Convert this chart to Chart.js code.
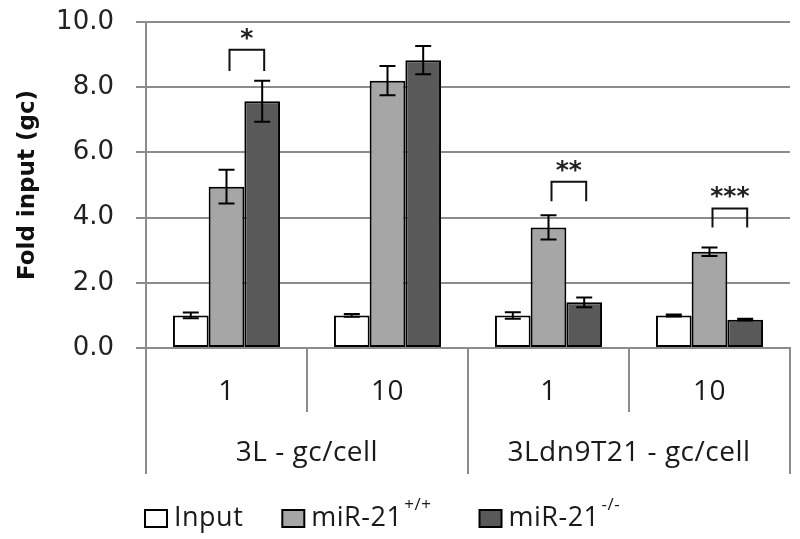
<!DOCTYPE html>
<html>
<head>
<meta charset="utf-8">
<script src="https://cdn.jsdelivr.net/npm/chart.js@4.4.1/dist/chart.umd.min.js"></script>
<style>
  html, body { margin: 0; padding: 0; background: #fff; }
</style>
</head>
<body>
<canvas id="chart" width="800" height="539"></canvas>
<script>
// data
const categories = ["1", "10", "1", "10"];
const groups = ["3L - gc/cell", "3Ldn9T21 - gc/cell"];
const groupSpan = [2, 2];
const seriesNames = ["Input", "miR-21", "miR-21"];
const seriesSup = ["", "+/+", "-/-"];
const inputVals = [1.0, 1.0, 1.0, 1.0];
const wtVals = [4.95, 8.2, 3.7, 2.95];
const koVals = [7.57, 8.83, 1.4, 0.87];
const inputErr = [0.09, 0.04, 0.1, 0.03];
const wtErr = [0.52, 0.45, 0.37, 0.13];
const koErr = [0.63, 0.43, 0.15, 0.03];
const yTicks = [0, 2, 4, 6, 8, 10];
const sigGroups = [0, 2, 3];
const sigTop = [9.15, 5.1, 4.28];
const sigLeg = [8.5, 4.5, 3.7];
const sigStars = ["*", "**", "***"];

const colors = ["#ffffff", "#a6a6a6", "#595959"];
const errors = [inputErr, wtErr, koErr];
const gridGray = "#8c8c8c";
const textFont = "'Open Sans', sans-serif";

// error bars on top of every bar
const errorBarPlugin = {
  id: "errorBars",
  afterDatasetsDraw(chart) {
    const ctx = chart.ctx;
    const y = chart.scales.y;
    ctx.save();
    ctx.strokeStyle = "#000";
    ctx.lineWidth = 2;
    chart.data.datasets.forEach((ds, di) => {
      const meta = chart.getDatasetMeta(di);
      meta.data.forEach((bar, i) => {
        const v = ds.data[i];
        const e = errors[di][i];
        const yHi = y.getPixelForValue(v + e);
        const yLo = y.getPixelForValue(v - e);
        const cap = 8;
        ctx.beginPath();
        ctx.moveTo(bar.x, yHi); ctx.lineTo(bar.x, yLo);
        ctx.moveTo(bar.x - cap, yHi); ctx.lineTo(bar.x + cap, yHi);
        ctx.moveTo(bar.x - cap, yLo); ctx.lineTo(bar.x + cap, yLo);
        ctx.stroke();
      });
    });
    ctx.restore();
  }
};

// significance brackets between miR-21 +/+ and -/-
const bracketPlugin = {
  id: "brackets",
  afterDatasetsDraw(chart) {
    const ctx = chart.ctx;
    const y = chart.scales.y;
    const a = chart.getDatasetMeta(1).data;
    const b = chart.getDatasetMeta(2).data;
    ctx.save();
    ctx.strokeStyle = "#111";
    ctx.lineWidth = 2;
    sigGroups.forEach((g, k) => {
      const x1 = a[g].x + 3, x2 = b[g].x + 2;
      const top = y.getPixelForValue(sigTop[k]);
      const leg = y.getPixelForValue(sigLeg[k]);
      ctx.beginPath();
      ctx.moveTo(x1, leg); ctx.lineTo(x1, top); ctx.lineTo(x2, top); ctx.lineTo(x2, leg);
      ctx.stroke();
      ctx.fillStyle = "#222";
      ctx.font = "bold 25px 'DejaVu Sans'";
      ctx.textAlign = "center";
      ctx.textBaseline = "alphabetic";
      ctx.fillText(sigStars[k], (x1 + x2) / 2, top - 4);
    });
    ctx.restore();
  }
};

// two-level category axis and legend
const axisPlugin = {
  id: "twoLevelAxis",
  afterDraw(chart) {
    const ctx = chart.ctx;
    const x = chart.scales.x;
    const area = chart.chartArea;
    const n = categories.length;
    const step = (area.right - area.left) / n;
    ctx.save();
    ctx.strokeStyle = gridGray;
    ctx.lineWidth = 2;
    // boundaries
    const groupEdges = [0];
    groupSpan.reduce((acc, s) => { groupEdges.push(acc + s); return acc + s; }, 0);
    for (let i = 0; i <= n; i++) {
      const bx = Math.round(x.getPixelForValue(i) - step / 2);
      const len = groupEdges.includes(i) ? 126 : 64;
      ctx.beginPath();
      ctx.moveTo(bx, area.bottom);
      ctx.lineTo(bx, area.bottom + len);
      ctx.stroke();
    }
    ctx.fillStyle = "#1a1a1a";
    ctx.textAlign = "center";
    ctx.textBaseline = "middle";
    ctx.letterSpacing = "0.5px";
    ctx.font = "28px " + textFont;
    categories.forEach((c, i) => {
      ctx.fillText(c, x.getPixelForValue(i), area.bottom + 44);
    });
    let start = 0;
    groups.forEach((g, gi) => {
      const mid = (x.getPixelForValue(start) + x.getPixelForValue(start + groupSpan[gi] - 1)) / 2;
      ctx.fillText(g, mid, area.bottom + 105);
      start += groupSpan[gi];
    });

    // legend
    let lx = 145;
    const ly = 518;
    ctx.textAlign = "left";
    ctx.textBaseline = "middle";
    seriesNames.forEach((name, i) => {
      ctx.fillStyle = colors[i];
      ctx.fillRect(lx, ly - 8, 22, 17);
      ctx.strokeStyle = "#000";
      ctx.lineWidth = 2;
      ctx.strokeRect(lx, ly - 8, 22, 17);
      lx += 29;
      ctx.fillStyle = "#1a1a1a";
      ctx.font = "27px " + textFont;
      ctx.fillText(name, lx, ly);
      lx += ctx.measureText(name).width + 2;
      if (seriesSup[i]) {
        ctx.font = "17px " + textFont;
        ctx.fillText(seriesSup[i], lx, ly - 13);
        lx += ctx.measureText(seriesSup[i]).width;
      }
      lx += seriesSup[i] ? 48 : 37;
    });
    ctx.restore();
  }
};

const datasets = [inputVals, wtVals, koVals].map((vals, i) => ({
  label: seriesNames[i] + seriesSup[i],
  data: vals,
  backgroundColor: colors[i],
  borderColor: "#000",
  borderWidth: 2,
  borderSkipped: false,
  barPercentage: 1.0,
  categoryPercentage: 0.665
}));

new Chart(document.getElementById("chart"), {
  type: "bar",
  data: { labels: categories, datasets: datasets },
  options: {
    responsive: false,
    animation: false,
    layout: { padding: { left: 8, right: 10, top: 22, bottom: 183 } },
    plugins: {
      legend: { display: false },
      tooltip: { enabled: false }
    },
    scales: {
      x: {
        grid: { display: false },
        ticks: { display: false },
        border: { color: gridGray, width: 2 }
      },
      y: {
        min: 0,
        max: 10,
        afterBuildTicks(scale) { scale.ticks = yTicks.map(v => ({ value: v })); },
        afterFit(scale) {
          scale.width = 138;
          scale.paddingTop = 0;
          scale.paddingBottom = 0;
        },
        ticks: {
          font: { family: "'DejaVu Sans'", size: 26 },
          color: "#222",
          padding: 22,
          callback: v => Number(v).toFixed(1)
        },
        grid: { color: gridGray, lineWidth: 2, tickLength: 10 },
        border: { color: gridGray, width: 2 },
        title: {
          display: true,
          text: "Fold input (gc)",
          font: { family: "'DejaVu Sans'", size: 23, weight: "bold" },
          color: "#111",
          padding: { top: 6, bottom: 0 }
        }
      }
    }
  },
  plugins: [errorBarPlugin, bracketPlugin, axisPlugin]
});
</script>
</body>
</html>
